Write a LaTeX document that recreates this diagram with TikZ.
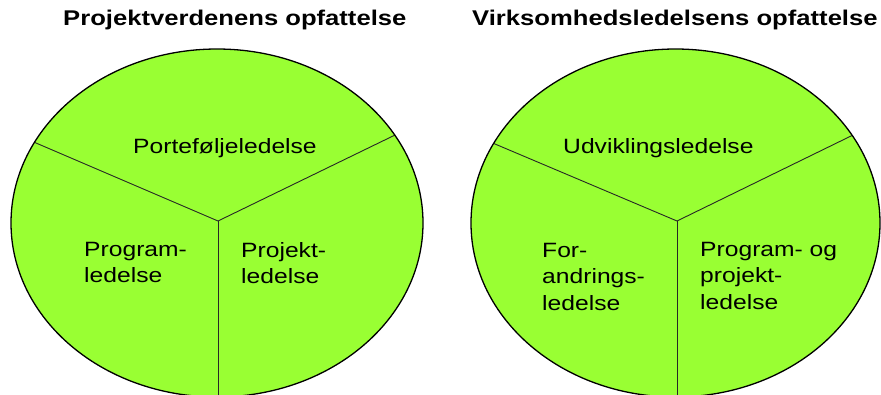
\documentclass[tikz,border=0pt]{standalone}
\usepackage{fontspec}
\setmainfont{Liberation Sans}
\usetikzlibrary{calc}
\definecolor{pie}{HTML}{99FF33}
\begin{document}
\begin{tikzpicture}[x=1pt,y=-1pt,
  title/.style={anchor=base west,inner sep=0pt,xscale=1.203,font=\bfseries\fontsize{21.3}{25}\selectfont},
  lbl/.style={anchor=north west,inner sep=0pt,xscale=1.19,align=left,font=\fontsize{20.7}{26.5}\selectfont},
  divider/.style={draw=black!85,line width=0.9pt},
  rim/.style={draw=black,line width=1.3pt}]
\useasboundingbox (0,0) rectangle (881,394);
\clip (0,0) rectangle (881,394);
% left pie
\fill[pie] (217,223) ellipse [x radius=206,y radius=174];
\coordinate (Lhub) at (218,221);
\coordinate (Lw) at (36,143);
\coordinate (Le) at (393,136);
\coordinate (Ls) at (218,420);
\begin{scope}
\clip (217,223) ellipse [x radius=206,y radius=174];
\draw[divider] (Lhub) -- ($(Lhub)!1.05!(Lw)$);
\draw[divider] (Lhub) -- ($(Lhub)!1.05!(Le)$);
\draw[divider] (Lhub) -- (Ls);
\end{scope}
\draw[rim] (217,223) ellipse [x radius=206,y radius=174];
% right pie
\fill[pie] (675.5,223) ellipse [x radius=204.5,y radius=174];
\coordinate (Rhub) at (677,221);
\coordinate (Rw) at (495,144);
\coordinate (Re) at (851,136);
\coordinate (Rs) at (677,420);
\begin{scope}
\clip (675.5,223) ellipse [x radius=204.5,y radius=174];
\draw[divider] (Rhub) -- ($(Rhub)!1.05!(Rw)$);
\draw[divider] (Rhub) -- ($(Rhub)!1.05!(Re)$);
\draw[divider] (Rhub) -- (Rs);
\end{scope}
\draw[rim] (675.5,223) ellipse [x radius=204.5,y radius=174];
% titles
\node[title] (t1) at (63,25) {Projektverdenens opfattelse};
\node[title] (t2) at (472,25) {Virksomhedsledelsens opfattelse};
% labels left
\node[lbl] (p1) at (133,138) {Porteføljeledelse};
\node[lbl] (p2) at (84,242) {Program-\\ledelse};
\node[lbl] (p3) at (241,242) {Projekt-\\ledelse};
% labels right
\node[lbl] (q1) at (563,138) {Udviklingsledelse};
\node[lbl] (q2) at (542,243) {For-\\andrings-\\ledelse};
\node[lbl] (q3) at (700,242) {Program- og\\projekt-\\ledelse};
\end{tikzpicture}
\end{document}
